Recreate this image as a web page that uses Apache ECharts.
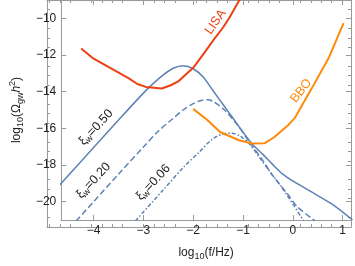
<!DOCTYPE html>
<html><head><meta charset="utf-8">
<script src="https://cdn.jsdelivr.net/npm/echarts@6/dist/echarts.min.js"></script>
<style>html,body{margin:0;padding:0;background:#fff}#c{width:355px;height:266px}</style>
</head><body><div id="c"></div>
<script>
// ---- data (log10 f [Hz], log10 Omega h^2) ----
const lisa = [[-4.25,-11.64],[-4.0,-12.2],[-3.65,-12.73],[-3.3,-13.26],[-3.12,-13.58],[-2.95,-13.74],[-2.63,-13.83],[-2.45,-13.65],[-2.29,-13.42],[-2.0,-12.7],[-1.78,-11.9],[-1.56,-11.06],[-1.4,-10.5],[-1.27,-9.95],[-1.05,-8.9]];
const bbo = [[-2.0,-14.94],[-1.71,-15.56],[-1.46,-16.2],[-1.08,-16.65],[-0.82,-16.83],[-0.57,-16.82],[-0.38,-16.5],[-0.1,-15.85],[0.05,-15.4],[0.35,-13.97],[0.73,-12.12],[1.02,-10.26]];
const xi050 = [[-4.7,-19.15],[-4.0,-17.05],[-3.5,-15.55],[-3.0,-14.08],[-2.8,-13.55],[-2.6,-13.08],[-2.4,-12.72],[-2.2,-12.58],[-2.0,-12.75],[-1.8,-13.2],[-1.6,-13.95],[-1.4,-14.7],[-1.2,-15.45],[-1.0,-16.2],[-0.8,-16.9],[-0.6,-17.42],[-0.4,-17.98],[-0.2,-18.5],[0.0,-18.87],[0.35,-19.43],[0.79,-20.14],[1.2,-21.0]];
const xi020 = [[-4.35,-21.05],[-3.5,-18.5],[-3.0,-17.02],[-2.7,-16.15],[-2.4,-15.45],[-2.2,-15.0],[-2.0,-14.65],[-1.84,-14.48],[-1.7,-14.44],[-1.59,-14.55],[-1.37,-15.0],[-1.11,-15.82],[-0.86,-16.79],[-0.6,-17.76],[-0.41,-18.55],[-0.13,-19.5],[0.1,-20.3],[0.45,-21.05]];
const xi006 = [[-3.16,-21.05],[-2.6,-19.35],[-2.19,-18.11],[-1.9,-17.35],[-1.62,-16.6],[-1.43,-16.33],[-1.24,-16.26],[-1.05,-16.44],[-0.86,-16.88],[-0.67,-17.58],[-0.48,-18.29],[-0.2,-19.3],[0.22,-21.05]];

const xMajor = [-4,-3,-2,-1,0,1];
const xMinor = [-4.6,-4.4,-4.2,-3.8,-3.6,-3.4,-3.2,-2.8,-2.6,-2.4,-2.2,-1.8,-1.6,-1.4,-1.2,-0.8,-0.6,-0.4,-0.2,0.2,0.4,0.6,0.8,1.2];
const yMajor = [-20,-18,-16,-14,-12,-10];
const yMinor = [-20.5,-19.5,-19,-18.5,-17.5,-17,-16.5,-15.5,-15,-14.5,-13.5,-13,-12.5,-11.5,-11,-10.5,-9.5,-9];

const xRange = [-4.65, 1.17];
const yRange = [-21, -9];

const curveLabels = [
  {text:'ξ{s|w}=0.50', at:[-3.95,-15.95], rot:47, color:'#1a1a1a'},
  {text:'ξ{s|w}=0.20', at:[-4.0,-18.85], rot:47, color:'#1a1a1a'},
  {text:'ξ{s|w}=0.06', at:[-2.8,-18.95], rot:47, color:'#1a1a1a'},
  {text:'LISA', at:[-1.55,-10.2], rot:55, color:'#ec3f12'},
  {text:'BBO', at:[0.17,-13.95], rot:52, color:'#ff8a0a'}
];

const FONT = 'Liberation Sans';
const frame = '#9a9a9a';
const fmt = v => (v < 0 ? '\u2212' : '') + Math.abs(v);

function xAx(grid, pos, ticks, len, labels, extra) {
  return Object.assign({
    type:'value', gridIndex:grid, position:pos, min:xRange[0], max:xRange[1],
    axisLine:{show:true, onZero:false, lineStyle:{color:frame, width:1}},
    axisTick:{show:true, inside:true, length:len, customValues:ticks, lineStyle:{color:frame}},
    axisLabel:labels ? {show:true, customValues:ticks, formatter:fmt, color:'#222', fontSize:12, fontFamily:FONT, margin:5} : {show:false},
    splitLine:{show:false}
  }, extra || {});
}
function yAx(grid, pos, ticks, len, labels, extra) {
  return Object.assign({
    type:'value', gridIndex:grid, position:pos, min:yRange[0], max:yRange[1],
    axisLine:{show:true, onZero:false, lineStyle:{color:frame, width:1}},
    axisTick:{show:true, inside:true, length:len, customValues:ticks, lineStyle:{color:frame}},
    axisLabel:labels ? {show:true, customValues:ticks, formatter:fmt, color:'#222', fontSize:12, fontFamily:FONT, margin:5} : {show:false},
    splitLine:{show:false}
  }, extra || {});
}

const gridBox = {left:47, right:4, top:0, bottom:39};
const chart = echarts.init(document.getElementById('c'), null, {renderer:'canvas'});

const nameRich = {
  s:{fontSize:9, fontFamily:FONT, color:'#222', verticalAlign:'bottom', lineHeight:17},
  p:{fontSize:9, fontFamily:FONT, color:'#222', verticalAlign:'top', lineHeight:17},
  i:{fontSize:12, fontFamily:FONT, fontStyle:'italic', color:'#222', lineHeight:17}
};

chart.setOption({
  animation:false,
  grid:[Object.assign({}, gridBox), Object.assign({}, gridBox)],
  xAxis:[
    xAx(0,'bottom',xMajor,5,true,{name:'log{s|10}(f/Hz)', nameLocation:'middle', nameGap:24,
      nameTextStyle:{fontSize:12, fontFamily:FONT, color:'#222', lineHeight:17, rich:nameRich}}),
    xAx(0,'top',xMajor,5,false),
    xAx(1,'bottom',xMinor,3,false),
    xAx(1,'top',xMinor,3,false)
  ],
  yAxis:[
    yAx(0,'left',yMajor,5,true,{name:'log{s|10}(Ω{s|gw}{i|h}{p|2})', nameLocation:'middle', nameGap:34, nameRotate:90,
      nameTextStyle:{fontSize:12, fontFamily:FONT, color:'#222', lineHeight:17, rich:nameRich}}),
    yAx(0,'right',yMajor,5,false),
    yAx(1,'left',yMinor,3,false),
    yAx(1,'right',yMinor,3,false)
  ],
  series:[
    {type:'line', xAxisIndex:0, yAxisIndex:0, data:xi050, showSymbol:false, smooth:0.3, lineStyle:{color:'#5e81b5', width:1.5}},
    {type:'line', xAxisIndex:0, yAxisIndex:0, data:xi020, showSymbol:false, smooth:0.3, lineStyle:{color:'#5e81b5', width:1.5, type:[6,3]}},
    {type:'line', xAxisIndex:0, yAxisIndex:0, data:xi006, showSymbol:false, smooth:0.3, lineStyle:{color:'#5e81b5', width:1.5, type:[4,2,1.5,2]}},
    {type:'line', xAxisIndex:0, yAxisIndex:0, data:lisa, showSymbol:false, lineStyle:{color:'#ec3f12', width:2}},
    {type:'line', xAxisIndex:0, yAxisIndex:0, data:bbo, showSymbol:false, lineStyle:{color:'#ff8a0a', width:2}}
  ]
});

const gfx = curveLabels.map(l => {
  const p = chart.convertToPixel({xAxisIndex:0, yAxisIndex:0}, l.at);
  return {
    type:'text', x:p[0], y:p[1], rotation:l.rot*Math.PI/180, z:100,
    style:{text:l.text, fill:l.color, fontSize:12.5, fontFamily:FONT, align:'center', verticalAlign:'middle',
      rich:{s:{fontSize:9, fontFamily:FONT, fill:l.color, verticalAlign:'bottom', lineHeight:15}}}
  };
});
chart.setOption({graphic:gfx});
</script></body></html>
